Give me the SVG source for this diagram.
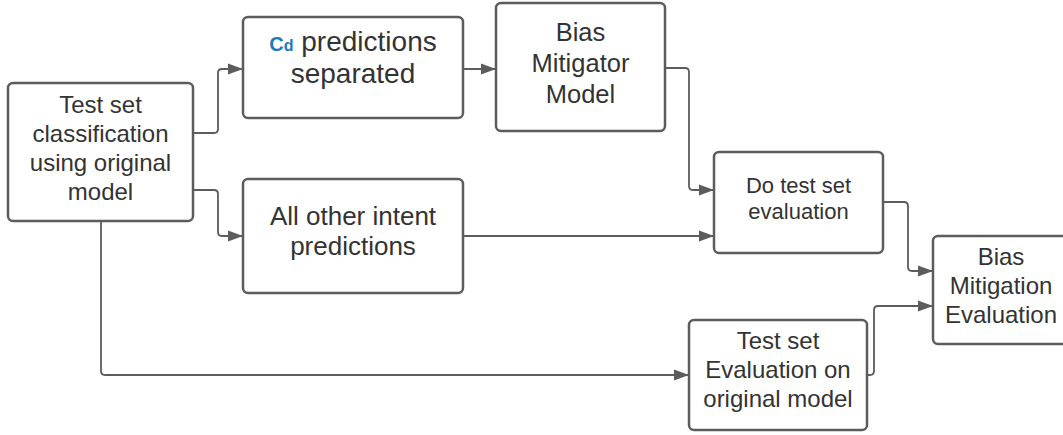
<svg xmlns="http://www.w3.org/2000/svg" width="1063" height="435" viewBox="0 0 1063 435">
  <style>
    .box { fill: #ffffff; stroke: #5c5c5c; stroke-width: 2.5; }
    .lbl { font-family: "Liberation Sans", Arial, sans-serif; fill: #333333; text-anchor: middle; }
    .conn { fill: none; stroke: #5c5c5c; stroke-width: 1.8; stroke-linejoin: round; }
    .cd { font-family: "Liberation Sans", Arial, sans-serif; font-weight: bold; fill: #1a7bbf; }
  </style>
  <defs>
    <marker id="arrow" markerUnits="userSpaceOnUse" markerWidth="16" markerHeight="12" refX="15" refY="6" orient="auto">
      <path d="M0,0.5 L15,6 L0,11.5 Z" fill="#5c5c5c"/>
    </marker>
  </defs>
  <rect width="1063" height="435" fill="#ffffff"/>

  <g id="connectors">
    <path class="conn" d="M193,133 H214 Q218,133 218,129 V73 Q218,69 222,69 H243" marker-end="url(#arrow)"/>
    <path class="conn" d="M193,190 H214 Q218,190 218,194 V232 Q218,236 222,236 H243" marker-end="url(#arrow)"/>
    <path class="conn" d="M463,69 H496" marker-end="url(#arrow)"/>
    <path class="conn" d="M665,68 H685 Q689,68 689,72 V186 Q689,190 693,190 H714" marker-end="url(#arrow)"/>
    <path class="conn" d="M463,236 H714" marker-end="url(#arrow)"/>
    <path class="conn" d="M883,202 H904 Q908,202 908,206 V267 Q908,271 912,271 H933" marker-end="url(#arrow)"/>
    <path class="conn" d="M867,375 H870 Q874,375 874,371 V310 Q874,306 878,306 H933" marker-end="url(#arrow)"/>
    <path class="conn" d="M101,221 V371 Q101,375 105,375 H689" marker-end="url(#arrow)"/>
  </g>

  <g id="node-test-set-classification">
    <rect class="box" x="8" y="83" width="185" height="138" rx="5"/>
    <text class="lbl" font-size="24"><tspan x="100.5" y="113">Test set</tspan><tspan x="100.5" y="142">classification</tspan><tspan x="100.5" y="171">using original</tspan><tspan x="100.5" y="200">model</tspan></text>
  </g>

  <g id="node-cd-predictions">
    <rect class="box" x="243" y="17" width="220" height="101" rx="5"/>
    <text class="lbl" font-size="28" x="353" y="51"><tspan class="cd" font-size="20">C</tspan><tspan class="cd" font-size="16">d</tspan><tspan> predictions</tspan></text>
    <text class="lbl" font-size="28" x="353" y="83">separated</text>
  </g>

  <g id="node-bias-mitigator-model">
    <rect class="box" x="496" y="3" width="169" height="128" rx="5"/>
    <text class="lbl" font-size="25.5"><tspan x="580.5" y="41">Bias</tspan><tspan x="580.5" y="72">Mitigator</tspan><tspan x="580.5" y="103">Model</tspan></text>
  </g>

  <g id="node-all-other-intent">
    <rect class="box" x="243" y="179" width="220" height="114" rx="5"/>
    <text class="lbl" font-size="26"><tspan x="353" y="225">All other intent</tspan><tspan x="353" y="255">predictions</tspan></text>
  </g>

  <g id="node-do-test-set-evaluation">
    <rect class="box" x="714" y="152" width="169" height="101" rx="5"/>
    <text class="lbl" font-size="22"><tspan x="798.5" y="193">Do test set</tspan><tspan x="798.5" y="219">evaluation</tspan></text>
  </g>

  <g id="node-bias-mitigation-evaluation">
    <rect class="box" x="933" y="236" width="135" height="108" rx="5"/>
    <text class="lbl" font-size="24"><tspan x="1001" y="265">Bias</tspan><tspan x="1001" y="294">Mitigation</tspan><tspan x="1001" y="323">Evaluation</tspan></text>
  </g>

  <g id="node-test-set-evaluation-original">
    <rect class="box" x="689" y="320" width="178" height="110" rx="5"/>
    <text class="lbl" font-size="24"><tspan x="778" y="349">Test set</tspan><tspan x="778" y="378">Evaluation on</tspan><tspan x="778" y="407">original model</tspan></text>
  </g>
</svg>
